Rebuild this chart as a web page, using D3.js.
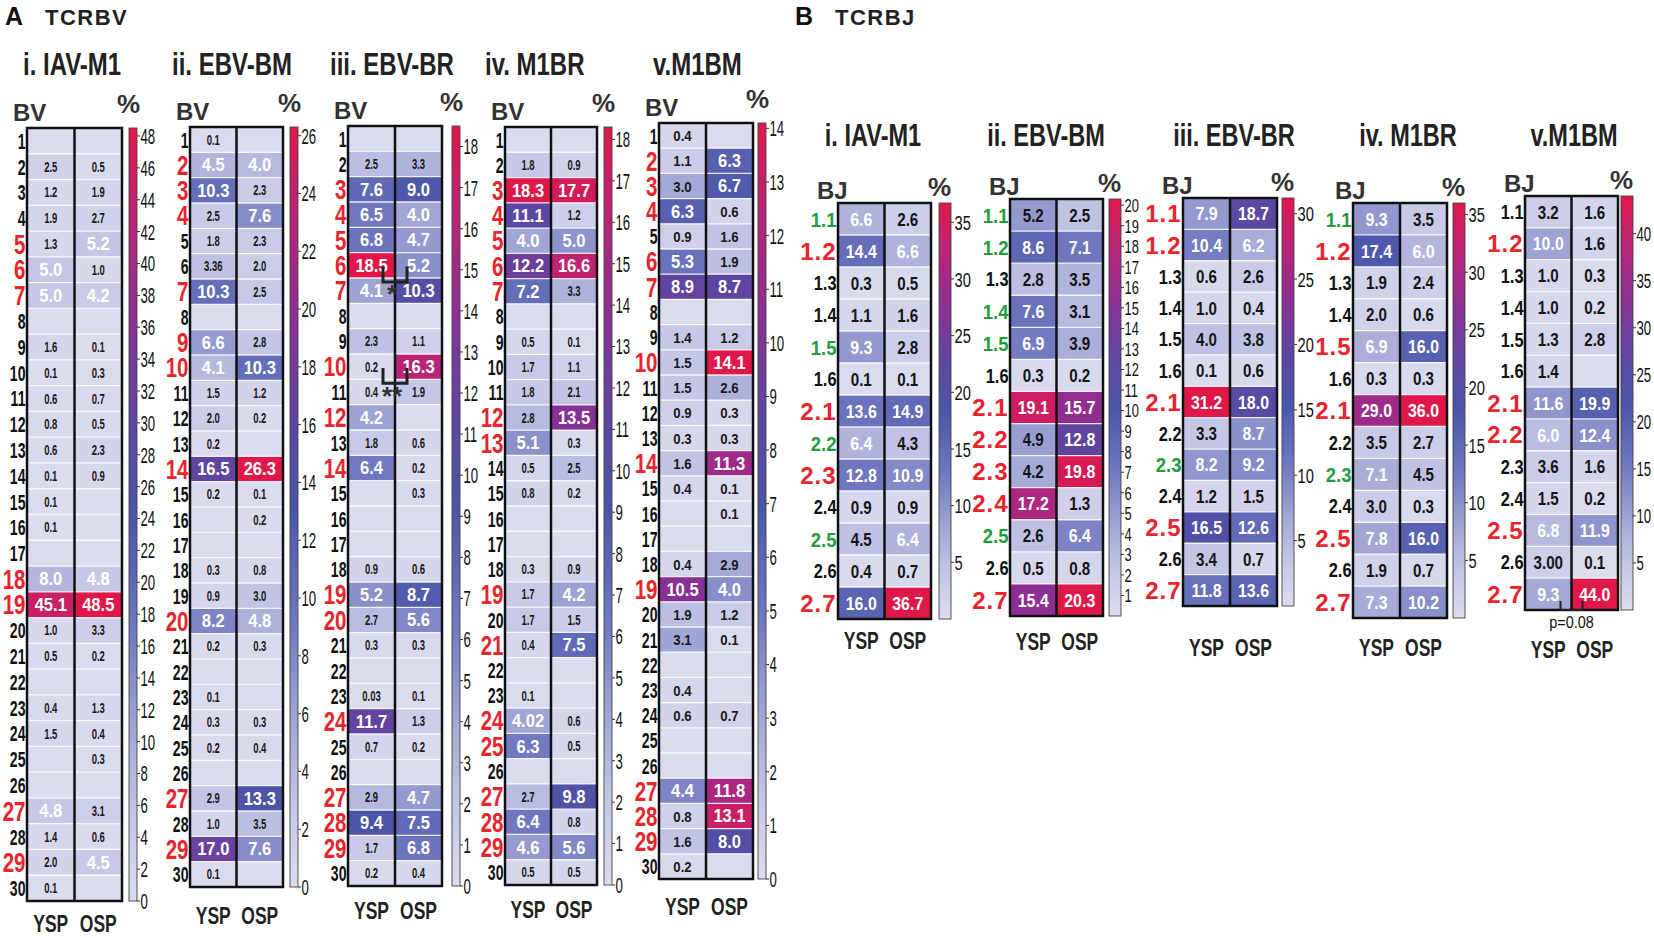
<!DOCTYPE html>
<html>
<head>
<meta charset="utf-8">
<script src="https://cdn.jsdelivr.net/npm/d3@7"></script>
<style>
    body { margin: 0; background: #fff; }
    svg { display: block; font-family: "Liberation Sans", Arial, sans-serif; }
</style>
</head>
<body>
<svg id="chart" width="1654" height="938"></svg>
<script>
// categories
const groups = ["YSP", "OSP"];
const bvLabels = ["1", "2", "3", "4", "5", "6", "7", "8", "9", "10", "11", "12", "13", "14", "15",
    "16", "17", "18", "19", "20", "21", "22", "23", "24", "25", "26", "27", "28", "29", "30"];
const bjLabels = ["1.1", "1.2", "1.3", "1.4", "1.5", "1.6", "2.1", "2.2", "2.3", "2.4", "2.5", "2.6", "2.7"];

// A. TCRBV usage in %, null = not detected
const bvIavM1Ysp = [null, "2.5", "1.2", "1.9", "1.3", "5.0", "5.0", null, "1.6", "0.1", "0.6", "0.8", "0.6", "0.1", "0.1",
    "0.1", null, "8.0", "45.1", "1.0", "0.5", null, "0.4", "1.5", null, null, "4.8", "1.4", "2.0", "0.1"];
const bvIavM1Osp = [null, "0.5", "1.9", "2.7", "5.2", "1.0", "4.2", null, "0.1", "0.3", "0.7", "0.5", "2.3", "0.9", null,
    null, null, "4.8", "48.5", "3.3", "0.2", null, "1.3", "0.4", "0.3", null, "3.1", "0.6", "4.5", null];
const bvEbvBmYsp = ["0.1", "4.5", "10.3", "2.5", "1.8", "3.36", "10.3", null, "6.6", "4.1", "1.5", "2.0", "0.2", "16.5", "0.2",
    null, null, "0.3", "0.9", "8.2", "0.2", null, "0.1", "0.3", "0.2", null, "2.9", "1.0", "17.0", "0.1"];
const bvEbvBmOsp = [null, "4.0", "2.3", "7.6", "2.3", "2.0", "2.5", null, "2.8", "10.3", "1.2", "0.2", null, "26.3", "0.1",
    "0.2", null, "0.8", "3.0", "4.8", "0.3", null, null, "0.3", "0.4", null, "13.3", "3.5", "7.6", null];
const bvEbvBrYsp = [null, "2.5", "7.6", "6.5", "6.8", "18.5", "4.1", null, "2.3", "0.2", "0.4", "4.2", "1.8", "6.4", null,
    null, null, "0.9", "5.2", "2.7", "0.3", null, "0.03", "11.7", "0.7", null, "2.9", "9.4", "1.7", "0.2"];
const bvEbvBrOsp = [null, "3.3", "9.0", "4.0", "4.7", "5.2", "10.3", null, "1.1", "16.3", "1.9", null, "0.6", "0.2", "0.3",
    null, null, "0.6", "8.7", "5.6", "0.3", null, "0.1", "1.3", "0.2", null, "4.7", "7.5", "6.8", "0.4"];
const bvM1BrYsp = [null, "1.8", "18.3", "11.1", "4.0", "12.2", "7.2", null, "0.5", "1.7", "1.8", "2.8", "5.1", "0.5", "0.8",
    null, null, "0.3", "1.7", "1.7", "0.4", null, "0.1", "4.02", "6.3", null, "2.7", "6.4", "4.6", "0.5"];
const bvM1BrOsp = [null, "0.9", "17.7", "1.2", "5.0", "16.6", "3.3", null, "0.1", "1.1", "2.1", "13.5", "0.3", "2.5", "0.2",
    null, null, "0.9", "4.2", "1.5", "7.5", null, null, "0.6", "0.5", null, "9.8", "0.8", "5.6", "0.5"];
const bvM1BmYsp = ["0.4", "1.1", "3.0", "6.3", "0.9", "5.3", "8.9", null, "1.4", "1.5", "1.5", "0.9", "0.3", "1.6", "0.4",
    null, null, "0.4", "10.5", "1.9", "3.1", null, "0.4", "0.6", null, null, "4.4", "0.8", "1.6", "0.2"];
const bvM1BmOsp = [null, "6.3", "6.7", "0.6", "1.6", "1.9", "8.7", null, "1.2", "14.1", "2.6", "0.3", "0.3", "11.3", "0.1",
    "0.1", null, "2.9", "4.0", "1.2", "0.1", null, null, "0.7", null, null, "11.8", "13.1", "8.0", null];

// BV labels printed in red
const bvIavM1Red = ["5", "6", "7", "18", "19", "27", "29"];
const bvEbvBmRed = ["2", "3", "4", "7", "9", "10", "14", "20", "27", "29"];
const bvEbvBrRed = ["3", "4", "5", "6", "7", "10", "12", "14", "19", "20", "24", "27", "28", "29"];
const bvM1BrRed = ["3", "4", "5", "6", "7", "12", "13", "19", "21", "24", "25", "27", "28", "29"];
const bvM1BmRed = ["2", "3", "4", "6", "7", "10", "14", "19", "27", "28", "29"];

// colour bar ticks
const ticksBvIavM1 = [0, 2, 4, 6, 8, 10, 12, 14, 16, 18, 20, 22, 24, 26, 28, 30, 32, 34, 36, 38, 40, 42, 44, 46, 48];
const ticksBvEbvBm = [0, 2, 4, 6, 8, 10, 12, 14, 16, 18, 20, 22, 24, 26];
const ticksBvEbvBr = [0, 1, 2, 3, 4, 5, 6, 7, 8, 9, 10, 11, 12, 13, 14, 15, 16, 17, 18];
const ticksBvM1Br = [0, 1, 2, 3, 4, 5, 6, 7, 8, 9, 10, 11, 12, 13, 14, 15, 16, 17, 18];
const ticksBvM1Bm = [0, 1, 2, 3, 4, 5, 6, 7, 8, 9, 10, 11, 12, 13, 14];

// significance marks in A iii
const bvEbvBrSig = [{ from: "6", to: "7", label: "*" }, { from: "10", to: "11", label: "**" }];

// B. TCRBJ usage in %
const bjIavM1Ysp = ["6.6", "14.4", "0.3", "1.1", "9.3", "0.1", "13.6", "6.4", "12.8", "0.9", "4.5", "0.4", "16.0"];
const bjIavM1Osp = ["2.6", "6.6", "0.5", "1.6", "2.8", "0.1", "14.9", "4.3", "10.9", "0.9", "6.4", "0.7", "36.7"];
const bjEbvBmYsp = ["5.2", "8.6", "2.8", "7.6", "6.9", "0.3", "19.1", "4.9", "4.2", "17.2", "2.6", "0.5", "15.4"];
const bjEbvBmOsp = ["2.5", "7.1", "3.5", "3.1", "3.9", "0.2", "15.7", "12.8", "19.8", "1.3", "6.4", "0.8", "20.3"];
const bjEbvBrYsp = ["7.9", "10.4", "0.6", "1.0", "4.0", "0.1", "31.2", "3.3", "8.2", "1.2", "16.5", "3.4", "11.8"];
const bjEbvBrOsp = ["18.7", "6.2", "2.6", "0.4", "3.8", "0.6", "18.0", "8.7", "9.2", "1.5", "12.6", "0.7", "13.6"];
const bjM1BrYsp = ["9.3", "17.4", "1.9", "2.0", "6.9", "0.3", "29.0", "3.5", "7.1", "3.0", "7.8", "1.9", "7.3"];
const bjM1BrOsp = ["3.5", "6.0", "2.4", "0.6", "16.0", "0.3", "36.0", "2.7", "4.5", "0.3", "16.0", "0.7", "10.2"];
const bjM1BmYsp = ["3.2", "10.0", "1.0", "1.0", "1.3", "1.4", "11.6", "6.0", "3.6", "1.5", "6.8", "3.00", "9.3"];
const bjM1BmOsp = ["1.6", "1.6", "0.3", "0.2", "2.8", null, "19.9", "12.4", "1.6", "0.2", "11.9", "0.1", "44.0"];

// BJ labels printed in red / green
const bjIavM1Red = ["1.2", "2.1", "2.3", "2.7"];
const bjIavM1Green = ["1.1", "1.5", "2.2", "2.5"];
const bjEbvBmRed = ["2.1", "2.2", "2.3", "2.4", "2.7"];
const bjEbvBmGreen = ["1.1", "1.2", "1.4", "1.5", "2.5"];
const bjEbvBrRed = ["1.1", "1.2", "2.1", "2.5", "2.7"];
const bjEbvBrGreen = ["2.3"];
const bjM1BrRed = ["1.2", "1.5", "2.1", "2.5", "2.7"];
const bjM1BrGreen = ["1.1", "2.3"];
const bjM1BmRed = ["1.2", "2.1", "2.2", "2.5", "2.7"];
const bjM1BmGreen = [];

const ticksBjIavM1 = [5, 10, 15, 20, 25, 30, 35];
const ticksBjEbvBm = [1, 2, 3, 4, 5, 6, 7, 8, 9, 10, 11, 12, 13, 14, 15, 16, 17, 18, 19, 20];
const ticksBjEbvBr = [5, 10, 15, 20, 25, 30];
const ticksBjM1Br = [5, 10, 15, 20, 25, 30, 35];
const ticksBjM1Bm = [5, 10, 15, 20, 25, 30, 35, 40];

const bjM1BmPval = "p=0.08";

// colour ramp, as fractions of each panel's maximum
const colorStops = [0, 0.1, 0.2, 0.35, 0.5, 0.62, 0.75, 0.88, 1];
const colorRange = ["#dcdcef", "#c7c8e6", "#a9acd8", "#6f78bf", "#4b55a8", "#5e46a0", "#8a3094", "#b82478", "#e0184a"];

const svg = d3.select("#chart");

// gradient for all colour bars
const grad = svg.append("defs").append("linearGradient")
    .attr("id", "cbar").attr("x1", 0).attr("y1", 1).attr("x2", 0).attr("y2", 0);
grad.selectAll("stop").data(colorStops).join("stop")
    .attr("offset", d => d)
    .attr("stop-color", (d, i) => colorRange[i]);

// text with horizontal squeeze (condensed look)
function addText(g, x, y, s, o) {
    o = o || {};
    return g.append("text")
        .attr("transform", "translate(" + x + "," + y + ") scale(" + (o.sx || 1) + ",1)")
        .attr("text-anchor", o.anchor || "start")
        .attr("dy", o.dy || 0)
        .style("font-size", (o.size || 16) + "px")
        .style("font-weight", o.weight || "bold")
        .style("letter-spacing", (o.ls || 0) + "px")
        .attr("fill", o.fill || "#111")
        .text(s);
}

const styleA = {
    whiteAt: 4,
    big: { size: 18, sx: 0.92, fill: "#fff" },
    small: { size: 14, sx: 0.68, fill: "#1a1a1a" },
    rowBlack: { size: 22, sx: 0.64, fill: "#111" },
    rowRed: { size: 27, sx: 0.76, fill: "#e8242c" },
    tick: { size: 22, sx: 0.6, weight: "normal", fill: "#111" },
    cbW: 8,
    rowTag: "BV"
};
const styleB = {
    whiteAt: 5.5,
    big: { size: 18.5, sx: 0.86, fill: "#fff" },
    small: { size: 18.5, sx: 0.82, fill: "#151515" },
    rowBlack: { size: 20, sx: 0.82, fill: "#111" },
    rowRed: { size: 24, sx: 1, ls: 1, fill: "#e8242c" },
    rowGreen: { size: 21, sx: 0.88, fill: "#1f9e3f" },
    tick: { size: 21, sx: 0.7, weight: "normal", fill: "#111" },
    cbW: 12,
    rowTag: "BJ"
};

function drawHeatmap(p, lay, st) {
    const g = svg.append("g");
    const y = d3.scaleBand().domain(p.rows).range([lay.y0, lay.y1]);
    const x = d3.scaleBand().domain(groups).range([lay.x0, lay.x1]);
    const vmax = d3.max(p.ysp.concat(p.osp), v => v === null ? 0 : +v);
    const color = d3.scaleLinear().domain(colorStops.map(s => s * vmax)).range(colorRange);

    let cells = [];
    p.rows.forEach((r, i) => {
        cells.push({ row: r, grp: "YSP", v: p.ysp[i] });
        cells.push({ row: r, grp: "OSP", v: p.osp[i] });
    });

    g.selectAll("rect.cell").data(cells).join("rect")
        .attr("class", "cell")
        .attr("x", d => x(d.grp))
        .attr("y", d => y(d.row))
        .attr("width", x.bandwidth())
        .attr("height", y.bandwidth())
        .attr("fill", d => color(d.v === null ? 0 : +d.v));

    // white row separators
    g.selectAll("line.sep").data(p.rows.slice(1)).join("line")
        .attr("class", "sep")
        .attr("x1", lay.x0).attr("x2", lay.x1)
        .attr("y1", d => y(d)).attr("y2", d => y(d))
        .attr("stroke", "#fff").attr("stroke-width", 1.3).attr("opacity", 0.85);

    // values
    const small = lay.small || st.small;
    cells.filter(d => d.v !== null).forEach(d => {
        const o = +d.v >= st.whiteAt ? st.big : small;
        addText(g, x(d.grp) + x.bandwidth() / 2, y(d.row) + y.bandwidth() / 2, d.v,
            Object.assign({ anchor: "middle", dy: "0.36em" }, o));
    });

    // frame + divider
    g.append("rect")
        .attr("x", lay.x0).attr("y", lay.y0)
        .attr("width", lay.x1 - lay.x0).attr("height", lay.y1 - lay.y0)
        .attr("fill", "none").attr("stroke", "#111").attr("stroke-width", 2.5);
    g.append("line")
        .attr("x1", x("OSP")).attr("x2", x("OSP"))
        .attr("y1", lay.y0).attr("y2", lay.y1)
        .attr("stroke", "#111").attr("stroke-width", 2.5);

    // row labels
    p.rows.forEach(r => {
        let o = st.rowBlack;
        if (p.red.indexOf(r) >= 0) o = st.rowRed;
        else if (p.green && p.green.indexOf(r) >= 0) o = st.rowGreen;
        addText(g, lay.x0 - 1.5, y(r) + y.bandwidth() / 2, r,
            Object.assign({ anchor: "end", dy: "0.36em" }, o));
    });

    // colour bar
    const cbY = d3.scaleLinear().domain([0, vmax]).range([lay.y1, lay.y0]);
    g.append("rect")
        .attr("x", lay.cbX).attr("y", lay.y0)
        .attr("width", st.cbW).attr("height", lay.y1 - lay.y0)
        .attr("fill", "url(#cbar)").attr("stroke", "#444").attr("stroke-width", 0.9);
    p.ticks.forEach(t => {
        g.append("line")
            .attr("x1", lay.cbX + st.cbW).attr("x2", lay.cbX + st.cbW + 3)
            .attr("y1", cbY(t)).attr("y2", cbY(t))
            .attr("stroke", "#333").attr("stroke-width", 1);
        addText(g, lay.cbX + st.cbW + 3.5, cbY(t), t,
            Object.assign({ dy: "0.36em" }, lay.tick || st.tick));
    });

    // headings
    if (lay.titleX !== undefined) {
        addText(g, lay.titleX, lay.titleY, p.title, { size: 32, sx: 0.75, fill: "#222" });
    } else {
        addText(g, lay.titleCx, lay.titleY, p.title, { size: 31, sx: 0.76, fill: "#222", anchor: "middle" });
    }
    addText(g, lay.x0 - lay.tagDx, lay.y0 - lay.tagDy, st.rowTag, { size: 24, fill: "#333" });
    addText(g, lay.cbX + st.cbW + lay.pctDx, lay.y0 - lay.pctDy, "%", { size: 26, fill: "#333", anchor: "end" });

    // group labels
    groups.forEach(k => {
        addText(g, x(k) + x.bandwidth() / 2, lay.y1 + lay.grpDy, k,
            { size: 23, sx: 0.76, fill: "#222", anchor: "middle" });
    });

    return { g: g, x: x, y: y };
}

// ---------- panel A ----------
const panelsA = [
    { title: "i. IAV-M1", rows: bvLabels, ysp: bvIavM1Ysp, osp: bvIavM1Osp, red: bvIavM1Red, ticks: ticksBvIavM1 },
    { title: "ii. EBV-BM", rows: bvLabels, ysp: bvEbvBmYsp, osp: bvEbvBmOsp, red: bvEbvBmRed, ticks: ticksBvEbvBm },
    { title: "iii. EBV-BR", rows: bvLabels, ysp: bvEbvBrYsp, osp: bvEbvBrOsp, red: bvEbvBrRed, ticks: ticksBvEbvBr },
    { title: "iv. M1BR", rows: bvLabels, ysp: bvM1BrYsp, osp: bvM1BrOsp, red: bvM1BrRed, ticks: ticksBvM1Br },
    { title: "v.M1BM", rows: bvLabels, ysp: bvM1BmYsp, osp: bvM1BmOsp, red: bvM1BmRed, ticks: ticksBvM1Bm }
];
const layoutA = [
    { x0: 27, x1: 122, y0: 128, y1: 901, cbX: 129, titleX: 23, grpDy: 31 },
    { x0: 190, x1: 283, y0: 127, y1: 887, cbX: 290, titleX: 172, grpDy: 37 },
    { x0: 348, x1: 442, y0: 126, y1: 886, cbX: 452, titleX: 330, grpDy: 33 },
    { x0: 505, x1: 597, y0: 127, y1: 885, cbX: 604, titleX: 485, grpDy: 33 },
    { x0: 659, x1: 753, y0: 123, y1: 879, cbX: 758, titleX: 653, grpDy: 36,
        small: { size: 15.5, sx: 0.85, fill: "#1a1a1a" } }
];

const drawnA = panelsA.map((p, i) => drawHeatmap(p,
    Object.assign({ titleY: 75, tagDx: 14, tagDy: 7, pctDx: 3, pctDy: 15 }, layoutA[i]), styleA));

// brackets + stars in A iii
(function () {
    const d = drawnA[2];
    const mid = d.x("OSP");
    bvEbvBrSig.forEach(s => {
        const yTop = d.y(s.from) + d.y.bandwidth() * 0.55;
        const yBot = d.y(s.to) + 4;
        d.g.append("path")
            .attr("d", "M" + (mid - 12) + "," + yTop + "V" + yBot + "H" + (mid + 12) + "V" + yTop)
            .attr("fill", "none").attr("stroke", "#222").attr("stroke-width", 3);
        addText(d.g, mid - 3, d.y(s.to) + d.y.bandwidth() * 1.0, s.label,
            { size: 26, fill: "#333", anchor: "middle" });
    });
})();

// ---------- panel B ----------
const panelsB = [
    { title: "i. IAV-M1", rows: bjLabels, ysp: bjIavM1Ysp, osp: bjIavM1Osp, red: bjIavM1Red, green: bjIavM1Green, ticks: ticksBjIavM1 },
    { title: "ii. EBV-BM", rows: bjLabels, ysp: bjEbvBmYsp, osp: bjEbvBmOsp, red: bjEbvBmRed, green: bjEbvBmGreen, ticks: ticksBjEbvBm },
    { title: "iii. EBV-BR", rows: bjLabels, ysp: bjEbvBrYsp, osp: bjEbvBrOsp, red: bjEbvBrRed, green: bjEbvBrGreen, ticks: ticksBjEbvBr },
    { title: "iv. M1BR", rows: bjLabels, ysp: bjM1BrYsp, osp: bjM1BrOsp, red: bjM1BrRed, green: bjM1BrGreen, ticks: ticksBjM1Br },
    { title: "v.M1BM", rows: bjLabels, ysp: bjM1BmYsp, osp: bjM1BmOsp, red: bjM1BmRed, green: bjM1BmGreen, ticks: ticksBjM1Bm }
];
const layoutB = [
    { x0: 838, x1: 931, y0: 203, y1: 619, cbX: 939, titleCx: 873, grpDy: 30 },
    { x0: 1010, x1: 1103, y0: 199, y1: 616, cbX: 1109, titleCx: 1046, grpDy: 34,
        tick: { size: 19, sx: 0.68, weight: "normal", fill: "#111" } },
    { x0: 1183, x1: 1277, y0: 198, y1: 606, cbX: 1282, titleCx: 1234, grpDy: 50 },
    { x0: 1353, x1: 1447, y0: 203, y1: 618, cbX: 1453, titleCx: 1408, grpDy: 38, tagDx: 18 },
    { x0: 1525, x1: 1618, y0: 196, y1: 610, cbX: 1621, titleCx: 1574, grpDy: 48,
        tick: { size: 20, sx: 0.66, weight: "normal", fill: "#111" } }
];

const drawnB = panelsB.map((p, i) => drawHeatmap(p,
    Object.assign({ titleY: 146, tagDx: 21, tagDy: 4, pctDx: 0, pctDy: 7 }, layoutB[i]), styleB));

// p-value under B v
(function () {
    const d = drawnB[4];
    const lay = layoutB[4];
    const mid = d.x("OSP");
    d.g.append("path")
        .attr("d", "M" + (mid - 11) + "," + (lay.y1 - 9) + "V" + lay.y1 + "H" + (mid + 11) + "V" + (lay.y1 - 9))
        .attr("fill", "none").attr("stroke", "#222").attr("stroke-width", 2);
    addText(d.g, (lay.x0 + lay.x1) / 2, lay.y1 + 18, bjM1BmPval,
        { size: 16, sx: 0.9, weight: "normal", fill: "#111", anchor: "middle" });
})();

// panel letters
addText(svg, 5, 25, "A", { size: 25, fill: "#111" });
addText(svg, 45, 25, "TCRBV", { size: 22, ls: 1.5, fill: "#222" });
addText(svg, 795, 25, "B", { size: 25, fill: "#111" });
addText(svg, 835, 25, "TCRBJ", { size: 22, ls: 1.5, fill: "#222" });
</script>
</body>
</html>
